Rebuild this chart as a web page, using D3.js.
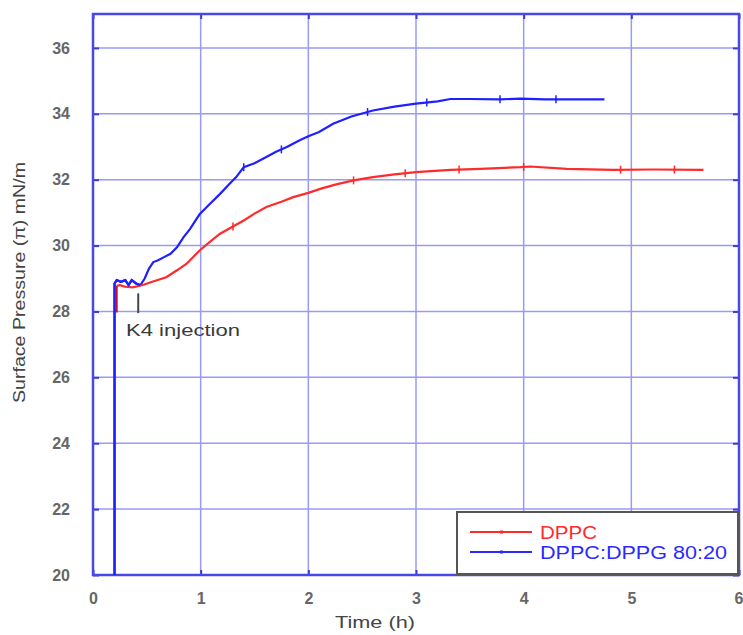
<!DOCTYPE html>
<html><head><meta charset="utf-8">
<script src="https://cdn.jsdelivr.net/npm/d3@7"></script>
<style>body{margin:0;background:#fff}svg{display:block}</style>
</head><body>
<script>
const xTicks = [0,1,2,3,4,5,6];
const yTicks = [20,22,24,26,28,30,32,34,36];
const seriesNames = ["DPPC","DPPC:DPPG 80:20"];
const dppcTime = [0.22,0.22,0.25,0.3,0.37,0.47,0.55,0.68,0.78,0.87,0.99,1.08,1.18,1.3,1.40,1.5,1.61,1.75,1.86,2.0,2.11,2.25,2.42,2.6,2.8,3.0,3.32,3.6,3.97,4.06,4.4,4.83,5.2,5.67];
const dppcVal = [27.97,28.78,28.8,28.75,28.73,28.81,28.9,29.04,29.25,29.45,29.85,30.1,30.36,30.58,30.76,30.97,31.17,31.33,31.47,31.6,31.72,31.85,31.98,32.08,32.16,32.23,32.30,32.33,32.38,32.40,32.33,32.30,32.31,32.30];
const mixTime = [0.2,0.2,0.22,0.26,0.3,0.33,0.36,0.4,0.44,0.48,0.52,0.56,0.6,0.66,0.72,0.78,0.84,0.9,0.99,1.08,1.18,1.26,1.33,1.40,1.5,1.61,1.7,1.8,1.92,2.0,2.1,2.23,2.4,2.6,2.8,3.0,3.2,3.32,3.5,3.78,3.97,4.2,4.5,4.75];
const mixVal = [20,28.85,28.95,28.9,28.95,28.8,28.95,28.85,28.8,29.0,29.3,29.5,29.55,29.65,29.75,29.95,30.25,30.5,30.95,31.25,31.57,31.85,32.08,32.38,32.5,32.69,32.85,32.99,33.2,33.32,33.45,33.70,33.92,34.10,34.22,34.31,34.38,34.45,34.45,34.44,34.46,34.44,34.44,34.44];
const dppcMarks = [1.3,2.42,2.9,3.4,4.0,4.9,5.4];
const mixMarks = [1.4,1.75,2.55,3.1,3.78,4.3];
const injectionTime = 0.42;

const W=743,H=635, m={l:93,r:4,t:14,b:60};
const svg=d3.select("body").append("svg").attr("width",W).attr("height",H);
const x=d3.scaleLinear().domain([0,6]).range([m.l,W-m.r]);
const y=d3.scaleLinear().domain([20,37.03]).range([H-m.b,m.t]);
const font="Liberation Sans, Arial, sans-serif";

// grid
svg.append("g").selectAll("line").data(xTicks.slice(1,-1)).join("line")
 .attr("x1",d=>x(d)).attr("x2",d=>x(d)).attr("y1",y.range()[0]).attr("y2",y.range()[1])
 .attr("stroke","#9a9af5").attr("stroke-width",1.5);
svg.append("g").selectAll("line").data(yTicks.slice(1)).join("line")
 .attr("y1",d=>y(d)).attr("y2",d=>y(d)).attr("x1",x.range()[0]).attr("x2",x.range()[1])
 .attr("stroke","#9a9af5").attr("stroke-width",1.5);

// axes with inward ticks
const xa=svg.append("g").attr("transform",`translate(0,${H-m.b})`)
 .call(d3.axisBottom(x).tickValues(xTicks).tickFormat(d3.format("d")).tickSizeInner(-5).tickSizeOuter(0).tickPadding(18));
const xt=svg.append("g").attr("transform",`translate(0,${m.t})`)
 .call(d3.axisTop(x).tickValues(xTicks).tickSizeInner(-5).tickSizeOuter(0).tickFormat(""));
const ya=svg.append("g").attr("transform",`translate(${m.l},0)`)
 .call(d3.axisLeft(y).tickValues(yTicks).tickSizeInner(-6).tickSizeOuter(0).tickPadding(23));
const yr=svg.append("g").attr("transform",`translate(${W-m.r},0)`)
 .call(d3.axisRight(y).tickValues(yTicks).tickSizeInner(-6).tickSizeOuter(0).tickFormat(""));
[xa,xt,ya,yr].forEach(g=>{g.select(".domain").remove();g.selectAll("line").attr("stroke","#3a3ad8").attr("stroke-width",2);
 g.selectAll("text").attr("font-family",font).attr("font-size",16).attr("font-weight","bold").attr("fill","#666");});
xa.selectAll(".tick text").filter(d=>d===6).attr("text-anchor","end").attr("dx",4);

// frame
svg.append("rect").attr("x",m.l).attr("y",m.t).attr("width",W-m.l-m.r).attr("height",H-m.t-m.b)
 .attr("fill","none").attr("stroke","#4848e6").attr("stroke-width",2.5);

const line=d3.line().x(d=>x(d[0])).y(d=>y(d[1]));
const dppc=dppcTime.map((t,i)=>[t,dppcVal[i]]);
const mix=mixTime.map((t,i)=>[t,mixVal[i]]);
svg.append("path").datum(mix).attr("d",line).attr("fill","none").attr("stroke","#1f1fff").attr("stroke-width",2.2);
svg.append("path").datum(dppc.slice(1)).attr("d",line).attr("fill","none").attr("stroke","#ff2a2a").attr("stroke-width",2.2);
svg.append("path").datum(dppc.slice(0,2)).attr("d",line).attr("fill","none").attr("stroke","#c01030").attr("stroke-width",2);
svg.append("path").datum(mix.slice(0,9)).attr("d",line).attr("fill","none").attr("stroke","#1f1fff").attr("stroke-width",2.2);

// small error marks
const interp=(ts,vs,t)=>{for(let i=1;i<ts.length;i++){if(t<=ts[i]){const f=(t-ts[i-1])/(ts[i]-ts[i-1]||1);return vs[i-1]+f*(vs[i]-vs[i-1]);}}return vs[vs.length-1];};
svg.append("g").selectAll("line").data(dppcMarks).join("line")
 .attr("x1",d=>x(d)).attr("x2",d=>x(d)).attr("y1",d=>y(interp(dppcTime,dppcVal,d))-4).attr("y2",d=>y(interp(dppcTime,dppcVal,d))+4)
 .attr("stroke","#ff2a2a").attr("stroke-width",1.5);
svg.append("g").selectAll("line").data(mixMarks).join("line")
 .attr("x1",d=>x(d)).attr("x2",d=>x(d)).attr("y1",d=>y(interp(mixTime,mixVal,d))-4).attr("y2",d=>y(interp(mixTime,mixVal,d))+4)
 .attr("stroke","#1f1fff").attr("stroke-width",1.5);

// injection annotation
svg.append("line").attr("x1",x(injectionTime)).attr("x2",x(injectionTime)).attr("y1",y(28.55)).attr("y2",y(27.95))
 .attr("stroke","#444").attr("stroke-width",2);
svg.append("text").attr("x",126).attr("y",336).attr("font-family",font).attr("font-size",17)
 .attr("textLength",114).attr("lengthAdjust","spacingAndGlyphs")
 .attr("fill","#3a3a3a").text("K4 injection");

// axis titles
svg.append("text").attr("x",335).attr("y",628).attr("font-family",font)
 .attr("font-size",17).attr("textLength",80).attr("lengthAdjust","spacingAndGlyphs").attr("fill","#444").text("Time (h)");
svg.append("text").attr("transform",`translate(25,403) rotate(-90)`).attr("font-family",font)
 .attr("font-size",16).attr("textLength",241).attr("lengthAdjust","spacingAndGlyphs").attr("fill","#444").text("Surface Pressure (\u03c0) mN/m");

// legend
const lg=svg.append("g");
lg.append("rect").attr("x",457).attr("y",512).attr("width",281).attr("height",62).attr("fill","#fff").attr("stroke","#555").attr("stroke-width",2);
const lc=["#ff2a2a","#2a2aff"];
const lw=[57,187];
seriesNames.forEach((n,i)=>{
 const yy=532+i*20;
 lg.append("line").attr("x1",470).attr("x2",532).attr("y1",yy).attr("y2",yy).attr("stroke",lc[i]).attr("stroke-width",1.8);
 lg.append("rect").attr("x",500).attr("y",yy-1.5).attr("width",3).attr("height",3).attr("fill",lc[i]);
 lg.append("text").attr("x",540).attr("y",yy+6.5).attr("font-family",font).attr("font-size",18)
  .attr("textLength",lw[i]).attr("lengthAdjust","spacingAndGlyphs").attr("fill",lc[i]).text(n);
});
</script>
</body></html>
